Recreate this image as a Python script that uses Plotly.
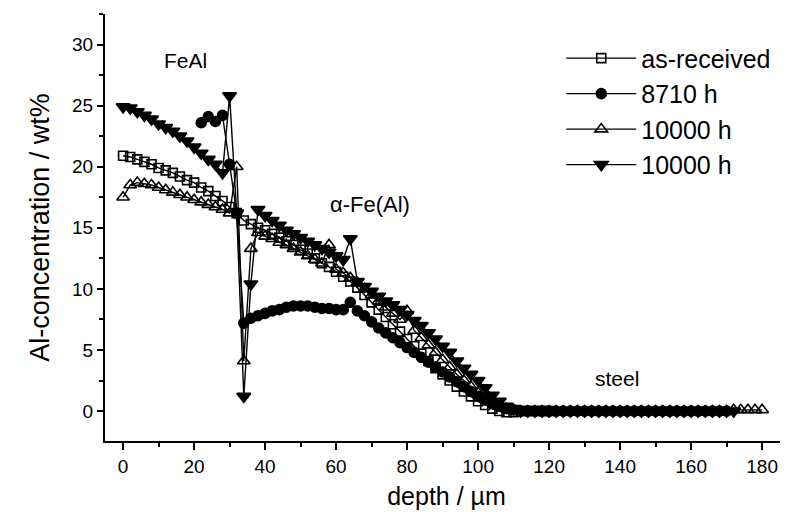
import plotly.graph_objects as go

# ---- data ----
as_x = [0, 2, 4, 6, 8, 10, 12, 14, 16, 18, 20, 22, 24, 26, 28, 30, 32, 34, 36, 38,
        40, 42, 44, 46, 48, 50, 52, 54, 56, 58, 60, 62, 64, 66, 68, 70, 72, 74, 76, 78,
        80, 82, 84, 86, 88, 90, 92, 94, 96, 98, 100, 102, 104, 106, 108, 110, 112, 114, 116, 118, 120]
as_y = [20.9, 20.8, 20.6, 20.4, 20.2, 19.9, 19.7, 19.5, 19.2, 18.9, 18.7, 18.3, 18.0, 17.6, 17.2, 16.7,
        16.2, 15.6, 15.3, 15.0, 14.8, 14.5, 14.2, 13.9, 13.6, 13.2, 12.9, 12.5, 12.1, 11.8, 11.4, 11.0,
        10.6, 10.1, 9.5, 8.9, 8.3, 7.7, 7.1, 6.5, 5.9, 5.3, 4.7, 4.1, 3.5, 3.0, 2.5, 2.0, 1.6, 1.2,
        0.8, 0.5, 0.2, 0.0, -0.1, -0.1, 0.0, 0.0, 0.0, 0.0, 0.0]

h8710_x = [22, 24, 26, 28, 30, 32, 34, 36, 38, 40, 42, 44, 46, 48, 50, 52, 54, 56, 58, 60,
           62, 64, 66, 68, 70, 72, 74, 76, 78, 80, 82, 84, 86, 88, 90, 92, 94, 96, 98, 100,
           102, 104, 106, 108, 110, 112, 114, 116, 118, 120, 122, 124, 126, 128, 130, 132, 134, 136, 138, 140,
           142, 144, 146, 148, 150, 152, 154, 156, 158, 160, 162, 164, 166, 168, 170]
h8710_y = [23.6, 24.1, 23.7, 24.2, 20.2, 16.2, 7.2, 7.6, 7.8, 8.0, 8.2, 8.3, 8.5, 8.6, 8.6, 8.6, 8.5, 8.4, 8.4, 8.3,
           8.3, 8.9, 8.2, 7.8, 7.3, 6.8, 6.4, 6.0, 5.6, 5.2, 4.8, 4.4, 4.0, 3.6, 3.2, 2.8, 2.4, 2.0, 1.6, 1.2,
           0.9, 0.6, 0.4, 0.2, 0.1, 0.0, 0.0, 0.0, 0.0, 0.0, 0.0, 0.0, 0.0, 0.0, 0.0, 0.0, 0.0, 0.0, 0.0, 0.0,
           0.0, 0.0, 0.0, 0.0, 0.0, 0.0, 0.0, 0.0, 0.0, 0.0, 0.0, 0.0, 0.0, 0.0, 0.0]

h10000a_x = [0, 2, 4, 6, 8, 10, 12, 14, 16, 18, 20, 22, 24, 26, 28, 30, 32, 34, 36, 38,
             40, 42, 44, 46, 48, 50, 52, 54, 56, 58, 60, 62, 64, 66, 68, 70, 72, 74, 76, 78,
             80, 82, 84, 86, 88, 90, 92, 94, 96, 98, 100, 102, 104, 106, 108, 110, 112, 114, 116, 118,
             120, 122, 124, 126, 128, 130, 132, 134, 136, 138, 140, 142, 144, 146, 148, 150, 152, 154, 156, 158,
             160, 162, 164, 166, 168, 170, 172, 174, 176, 178, 180]
h10000a_y = [17.5, 18.5, 18.7, 18.6, 18.5, 18.3, 18.1, 17.9, 17.7, 17.5, 17.3, 17.1, 16.9, 16.7, 16.5, 16.2, 20.0, 4.1, 13.3, 14.6,
             14.3, 14.1, 13.8, 13.6, 13.3, 13.0, 12.7, 12.4, 12.1, 13.6, 11.6, 11.3, 10.9, 10.5, 10.0, 9.5, 9.0, 8.5, 8.0, 7.5,
             8.2, 6.6, 6.0, 5.4, 4.8, 4.2, 3.6, 3.0, 2.5, 2.0, 1.5, 1.1, 0.7, 0.4, 0.2, 0.1, 0.0, 0.0, 0.0, 0.0,
             0.0, 0.0, 0.0, 0.0, 0.0, 0.0, 0.0, 0.0, 0.0, 0.0, 0.0, 0.0, 0.0, 0.0, 0.0, 0.0, 0.0, 0.0, 0.0, 0.0,
             0.0, 0.0, 0.0, 0.0, 0.0, 0.0, 0.1, 0.1, 0.1, 0.1, 0.1]

h10000b_x = [0, 2, 4, 6, 8, 10, 12, 14, 16, 18, 20, 22, 24, 26, 28, 30, 32, 34, 36, 38,
             40, 42, 44, 46, 48, 50, 52, 54, 56, 58, 60, 62, 64, 66, 68, 70, 72, 74, 76, 78,
             80, 82, 84, 86, 88, 90, 92, 94, 96, 98, 100, 102, 104, 106, 108, 110, 112, 114, 116, 118,
             120, 122, 124, 126, 128, 130, 132, 134, 136, 138, 140, 142, 144, 146, 148, 150, 152, 154, 156, 158,
             160, 162, 164, 166, 168, 170, 172]
h10000b_y = [24.9, 24.8, 24.5, 24.2, 23.9, 23.5, 23.2, 22.9, 22.5, 22.1, 21.6, 21.1, 20.6, 20.2, 19.5, 25.8, 16.2, 1.2, 10.4, 16.5,
             16.0, 15.6, 15.2, 14.8, 14.5, 14.2, 13.9, 13.6, 13.3, 13.0, 12.7, 12.4, 14.1, 10.6, 10.2, 9.8, 9.4, 9.0, 8.7, 8.3,
             7.9, 7.4, 7.0, 6.4, 5.9, 5.3, 4.8, 4.1, 3.5, 3.0, 2.5, 1.9, 1.3, 0.8, 0.4, 0.2, 0.0, 0.0, 0.0, 0.0,
             0.0, 0.0, 0.0, 0.0, 0.0, 0.0, 0.0, 0.0, 0.0, 0.0, 0.0, 0.0, 0.0, 0.0, 0.0, 0.0, 0.0, 0.0, 0.0, 0.0,
             0.0, 0.0, 0.0, 0.0, 0.0, 0.0, 0.0]

x_tick_vals = [0, 20, 40, 60, 80, 100, 120, 140, 160, 180]
y_tick_vals = [0, 5, 10, 15, 20, 25, 30]

FONT = "Liberation Sans, Arial, sans-serif"

fig = go.Figure()

series = [
    ("as-received", as_x, as_y, "square-open", 9),
    ("8710 h", h8710_x, h8710_y, "circle", 10),
    ("10000 h", h10000a_x, h10000a_y, "triangle-up-open", 11),
    ("10000 h", h10000b_x, h10000b_y, "triangle-down", 12),
]
for i, (name, xs, ys, sym, sz) in enumerate(series):
    fig.add_trace(go.Scatter(
        x=xs, y=ys, name=name, mode="lines+markers",
        legendgroup="g%d" % i,
        line=dict(color="black", width=1.4),
        marker=dict(symbol=sym, size=sz, color="black",
                    line=dict(color="black", width=1.6)),
    ))

fig.add_annotation(x=17.5, y=28.7, text="FeAl", showarrow=False,
                   font=dict(family=FONT, size=21, color="black"))
fig.add_annotation(x=69.5, y=16.9, text="α-Fe(Al)", showarrow=False,
                   font=dict(family=FONT, size=22, color="black"))
fig.add_annotation(x=139, y=2.7, text="steel", showarrow=False,
                   font=dict(family=FONT, size=21, color="black"))

fig.update_layout(
    width=780, height=504,
    margin=dict(l=97, r=0, t=6, b=71),
    paper_bgcolor="white", plot_bgcolor="white",
    font=dict(family=FONT, color="black"),
    showlegend=True,
    legend=dict(x=0.668, y=0.95, xanchor="left", yanchor="top",
                bgcolor="rgba(0,0,0,0)", borderwidth=0,
                font=dict(family=FONT, size=25, color="black"),
                itemwidth=70, tracegroupgap=0),
    xaxis=dict(range=[-5.1, 187.3], tickvals=x_tick_vals,
               ticks="outside", ticklen=7, tickwidth=2, tickcolor="black",
               showline=True, linewidth=2, linecolor="black",
               showgrid=False, zeroline=False,
               tickfont=dict(family=FONT, size=19, color="black"),
               minor=dict(dtick=10, ticks="outside", ticklen=4, tickwidth=2, tickcolor="black"),
               title=dict(text="depth / µm", font=dict(family=FONT, size=25, color="black"), standoff=12)),
    yaxis=dict(range=[-2.45, 32.5], tickvals=y_tick_vals,
               ticks="outside", ticklen=6, tickwidth=2, tickcolor="black",
               showline=True, linewidth=2, linecolor="black",
               showgrid=False, zeroline=False,
               tickfont=dict(family=FONT, size=19, color="black"),
               minor=dict(dtick=2.5, ticks="outside", ticklen=4, tickwidth=2, tickcolor="black"),
               title=dict(text="Al-concentration / wt%", font=dict(family=FONT, size=27, color="black"), standoff=15)),
)

fig.write_html("out.html")
